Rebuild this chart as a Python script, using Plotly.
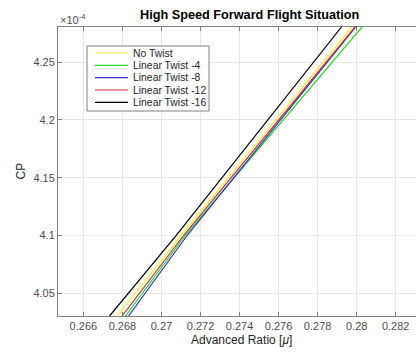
import plotly.graph_objects as go

# CP levels at which each curve was read
cp_levels = [4.0304e-4, 4.1e-4, 4.2803e-4]

mu_no_twist = [0.267726, 0.271004, 0.279762]
mu_twist_4 = [0.268161, 0.271209, 0.280274]
mu_twist_8 = [0.268315, 0.271311, 0.279941]
mu_twist_12 = [0.267982, 0.271132, 0.279916]
mu_twist_16 = [0.267342, 0.270748, 0.279224]

series_names = ["No Twist", "Linear Twist -4", "Linear Twist -8",
                "Linear Twist -12", "Linear Twist -16"]
series_mu = [mu_no_twist, mu_twist_4, mu_twist_8, mu_twist_12, mu_twist_16]
series_colors = ["#f5f030", "#22dd22", "#3030c8", "#d03030", "#000000"]

x_ticks = [0.266, 0.268, 0.27, 0.272, 0.274, 0.276, 0.278, 0.28, 0.282]
x_tick_labels = ["0.266", "0.268", "0.27", "0.272", "0.274", "0.276", "0.278", "0.28", "0.282"]
y_ticks = [4.05e-4, 4.1e-4, 4.15e-4, 4.2e-4, 4.25e-4]
y_tick_labels = ["4.05", "4.1", "4.15", "4.2", "4.25"]

W, H = 416, 352
L, R, T, B = 58, 0, 27, 36
PW, PH = W - L - R, H - T - B


def px(x):
    return (x - L) / PW


def py(y):
    return (H - B - y) / PH


fig = go.Figure()
for name, mu, col in zip(series_names, series_mu, series_colors):
    fig.add_trace(go.Scatter(x=mu, y=cp_levels, mode="lines", name=name,
                             line=dict(color=col, width=1.2), showlegend=False))

axis_col = "#808080"
font = "Liberation Sans, Arial, sans-serif"
fig.update_layout(
    width=W, height=H,
    margin=dict(l=L, r=R, t=T, b=B),
    paper_bgcolor="white", plot_bgcolor="white",
    font=dict(family=font, size=11, color="#4d4d4d"),
    showlegend=False,
    xaxis=dict(range=[0.26470, 0.28304], tickvals=x_ticks, ticktext=x_tick_labels,
               showline=True, linecolor=axis_col, linewidth=1, mirror="ticks",
               ticks="inside", ticklen=4, tickcolor=axis_col,
               showgrid=True, gridcolor="#e6e6e6", zeroline=False,
               tickfont=dict(size=11, color="#4d4d4d")),
    yaxis=dict(range=[4.0304e-4, 4.2803e-4], tickvals=y_ticks, ticktext=y_tick_labels,
               showline=True, linecolor=axis_col, linewidth=1, mirror=False,
               ticks="inside", ticklen=4, tickcolor=axis_col,
               showgrid=True, gridcolor="#e6e6e6", zeroline=False,
               tickfont=dict(size=11, color="#4d4d4d")),
)

# legend box drawn by hand (compact MATLAB-style spacing)
box_l, box_r, box_t, box_b = 87, 209, 46, 111
fig.add_shape(type="rect", xref="paper", yref="paper",
              x0=px(box_l), x1=px(box_r), y0=py(box_b), y1=py(box_t),
              fillcolor="white", line=dict(color="#808080", width=1), layer="above")
row_y = [53, 65.3, 77.6, 90, 102.3]
for name, col, ry in zip(series_names, series_colors, row_y):
    fig.add_shape(type="line", xref="paper", yref="paper",
                  x0=px(95), x1=px(128), y0=py(ry), y1=py(ry),
                  line=dict(color=col, width=1.2), layer="above")
    fig.add_annotation(text=name, xref="paper", yref="paper",
                       x=px(131), y=py(ry), xanchor="left", yanchor="middle",
                       showarrow=False,
                       font=dict(size=10.4, color="#262626", family=font))

fig.add_annotation(text="<b>High Speed Forward Flight Situation</b>",
                   xref="paper", yref="paper", x=px(249), y=py(15),
                   xanchor="center", yanchor="middle", showarrow=False,
                   font=dict(size=12.7, color="#000000", family=font))
fig.add_annotation(text="×10<sup>-4</sup>",
                   xref="paper", yref="paper", x=0.0, y=py(19),
                   xanchor="left", yanchor="middle", showarrow=False,
                   font=dict(size=11, color="#4d4d4d", family=font))
fig.add_annotation(text="Advanced Ratio [<i>μ</i>]",
                   xref="paper", yref="paper", x=px(241), y=py(340),
                   xanchor="center", yanchor="middle", showarrow=False,
                   font=dict(size=12, color="#262626", family=font))
fig.add_annotation(text="CP", textangle=-90,
                   xref="paper", yref="paper", x=px(20), y=0.5,
                   xanchor="center", yanchor="middle", showarrow=False,
                   font=dict(size=12, color="#262626", family=font))

fig.write_html("out.html")
